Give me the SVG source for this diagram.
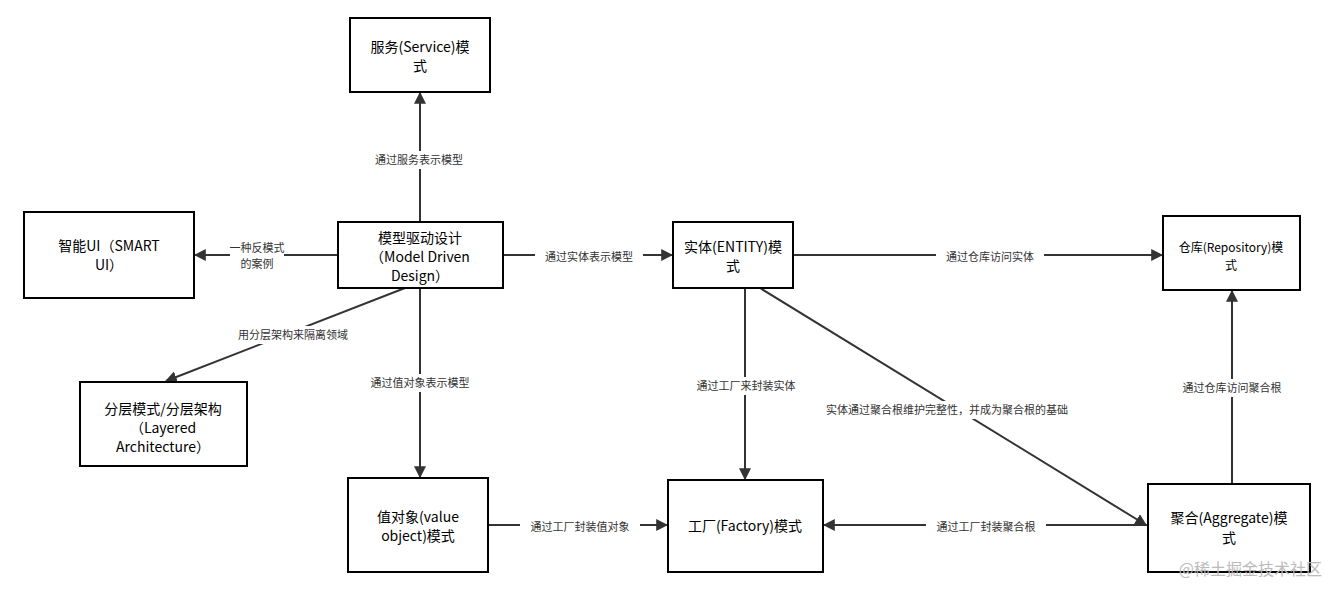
<svg xmlns="http://www.w3.org/2000/svg" width="1340" height="597" viewBox="0 0 1340 597">
<style>
.n{fill:#fff;stroke:#000;stroke-width:2}
.t{font-family:"Noto Sans CJK SC","Liberation Sans",sans-serif;font-size:14px;text-anchor:middle;fill:#000}
.s{font-size:12px}
.l{font-family:"Noto Sans CJK SC","Liberation Sans",sans-serif;font-size:11px;text-anchor:middle;fill:#333}
.lb{fill:#fff}
.e{stroke:#333;stroke-width:2;fill:none;marker-end:url(#a)}
</style>
<defs><marker id="a" viewBox="0 0 10 10" refX="9" refY="5" markerWidth="6" markerHeight="6" orient="auto"><path d="M0,0L10,5L0,10z" fill="#333"/></marker></defs>
<rect width="1340" height="597" fill="#fff"/>
<g id="edges">
<path class="e" d="M420,222V93"/>
<path class="e" d="M338,255H195"/>
<path class="e" d="M405,288L166,381"/>
<path class="e" d="M420,288V477"/>
<path class="e" d="M503,255H672"/>
<path class="e" d="M793,255H1162"/>
<path class="e" d="M745,288V479"/>
<path class="e" d="M760,288L1146,525"/>
<path class="e" d="M1232,484V291"/>
<path class="e" d="M488,525H667"/>
<path class="e" d="M1148,525H824"/>
<g>
<rect class="lb" x="365" y="151" width="108" height="18"/><text class="l" x="419" y="164">通过服务表示模型</text>
<rect class="lb" x="230" y="241" width="54" height="32"/><text class="l" x="257" y="252">一种反模式</text><text class="l" x="257" y="268">的案例</text>
<rect class="lb" x="227" y="326" width="132" height="18"/><text class="l" x="293" y="339">用分层架构来隔离领域</text>
<rect class="lb" x="360" y="374" width="120" height="18"/><text class="l" x="420" y="387">通过值对象表示模型</text>
<rect class="lb" x="535" y="248" width="108" height="18"/><text class="l" x="589" y="261">通过实体表示模型</text>
<rect class="lb" x="936" y="248" width="108" height="18"/><text class="l" x="990" y="261">通过仓库访问实体</text>
<rect class="lb" x="686" y="377" width="120" height="18"/><text class="l" x="746" y="390">通过工厂来封装实体</text>
<rect class="lb" x="803" y="401" width="288" height="18"/><text class="l" x="947" y="414">实体通过聚合根维护完整性，并成为聚合根的基础</text>
<rect class="lb" x="1172" y="379" width="120" height="18"/><text class="l" x="1232" y="392">通过仓库访问聚合根</text>
<rect class="lb" x="520" y="518" width="120" height="18"/><text class="l" x="580" y="531">通过工厂封装值对象</text>
<rect class="lb" x="926" y="518" width="120" height="18"/><text class="l" x="986" y="531">通过工厂封装聚合根</text>
</g>
</g>
<g id="service"><rect class="n" x="350" y="18" width="140" height="74"/><text class="t" x="420" y="52">服务(Service)模</text><text class="t" x="420" y="71">式</text></g>
<g id="mdd"><rect class="n" x="338" y="222" width="165" height="66"/><text class="t" x="420" y="243">模型驱动设计</text><text class="t" x="420" y="262">（Model Driven</text><text class="t" x="420" y="281">Design）</text></g>
<g id="smartui"><rect class="n" x="24" y="212" width="170" height="86"/><text class="t" x="109" y="251">智能UI（SMART</text><text class="t" x="109" y="270">UI）</text></g>
<g id="layered"><rect class="n" x="80" y="382" width="167" height="84"/><text class="t" x="163" y="414">分层模式/分层架构</text><text class="t" x="163" y="433">（Layered</text><text class="t" x="163" y="452">Architecture）</text></g>
<g id="value"><rect class="n" x="348" y="478" width="140" height="94"/><text class="t" x="418" y="522">值对象(value</text><text class="t" x="418" y="541">object)模式</text></g>
<g id="factory"><rect class="n" x="668" y="480" width="155" height="92"/><text class="t" x="745" y="531">工厂(Factory)模式</text></g>
<g id="entity"><rect class="n" x="673" y="222" width="120" height="66"/><text class="t" x="733" y="252">实体(ENTITY)模</text><text class="t" x="733" y="271">式</text></g>
<g id="repo"><rect class="n" x="1163" y="216" width="137" height="74"/><text class="t s" x="1231" y="252">仓库(Repository)模</text><text class="t s" x="1231" y="270">式</text></g>
<g id="aggregate"><rect class="n" x="1148" y="484" width="162" height="88"/><text class="t" x="1229" y="523">聚合(Aggregate)模</text><text class="t" x="1229" y="543">式</text></g>
<text x="1322" y="575" font-family="Noto Sans CJK SC,sans-serif" font-size="16" fill="#bbb" text-anchor="end">@稀土掘金技术社区</text>
</svg>
